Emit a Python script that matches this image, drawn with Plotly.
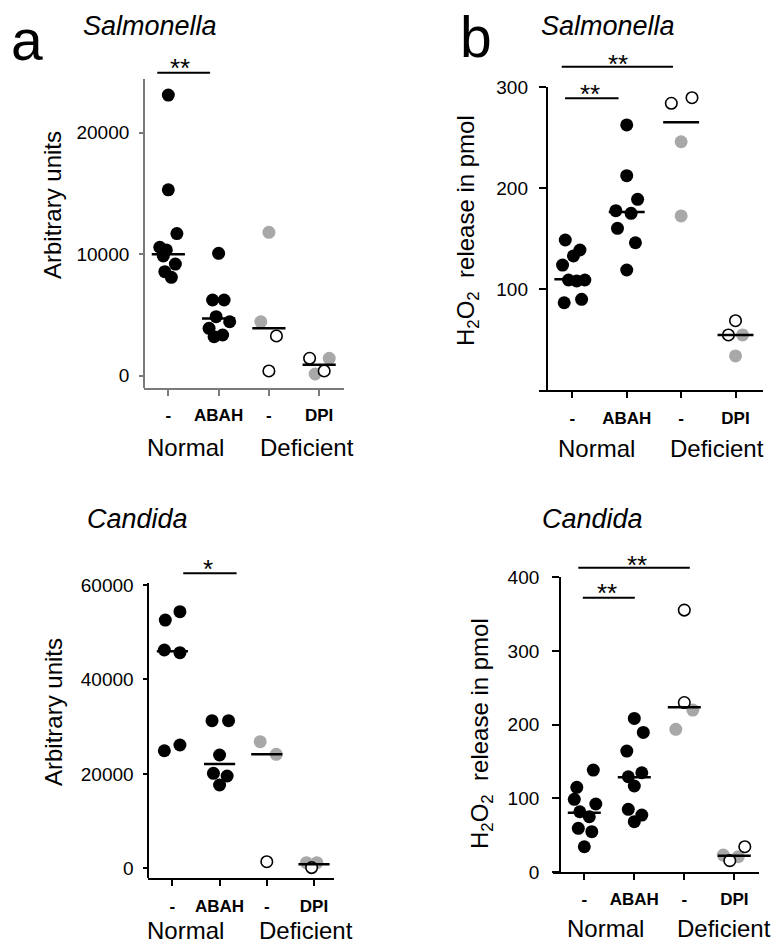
import plotly.graph_objects as go

W, H = 778, 947
FONT = "Liberation Sans, Arial, sans-serif"
BLACK = "#000000"
GRAY = "#a8a8a8"

categories = ["-", "ABAH", "-", "DPI"]
groups = ["Normal", "Deficient"]

# ---------------- data ----------------
# Panel a: Salmonella, arbitrary units
a_norm_vals = [23100, 15300, 11700, 10570, 10350, 9850, 9190, 8560, 8100]
a_norm_dx = [0, 0, 0.17, -0.17, -0.04, -0.1, 0.14, -0.07, 0.06]
a_abah_vals = [10070, 6230, 6230, 4860, 4440, 3900, 3350, 3210]
a_abah_dx = [0, -0.12, 0.11, -0.05, 0.22, -0.19, 0.08, -0.09]
a_def_gray_vals = [11800, 4440]
a_def_gray_dx = [0, -0.16]
a_def_open_vals = [3270, 390]
a_def_open_dx = [0.15, 0]
a_dpi_gray_vals = [1430, 140]
a_dpi_gray_dx = [0.2, -0.08]
a_dpi_open_vals = [1430, 390]
a_dpi_open_dx = [-0.19, 0.1]
a_medians = [10000, 4700, 3900, 900]
a_yticks = [0, 10000, 20000]

# Panel b: Salmonella, H2O2 release in pmol
b_norm_vals = [148.8, 138.9, 133, 124, 109.2, 108.2, 109.2, 86.7, 90.1]
b_norm_dx = [-0.13, 0.14, 0.02, -0.18, -0.07, 0.08, 0.23, -0.15, 0.17]
b_abah_vals = [262.7, 212.5, 189.1, 177.8, 175.2, 160.4, 146.1, 119.1]
b_abah_dx = [0, 0, 0.2, -0.2, 0.08, -0.17, 0.16, 0]
b_def_gray_vals = [246.1, 172.6]
b_def_gray_dx = [0, 0]
b_def_open_vals = [284.2, 289.7]
b_def_open_dx = [-0.18, 0.2]
b_dpi_gray_vals = [54.8, 34]
b_dpi_gray_dx = [0.13, 0]
b_dpi_open_vals = [68.9, 54.8]
b_dpi_open_dx = [0, -0.13]
b_medians = [110, 176.5, 265.3, 54.8]
b_yticks = [100, 200, 300]

# Panel c: Candida, arbitrary units
c_norm_vals = [54340, 52580, 46230, 45660, 26110, 24900]
c_norm_dx = [0.16, -0.15, -0.17, 0.16, 0.16, -0.17]
c_abah_vals = [31270, 31270, 24000, 20120, 19550, 17640]
c_abah_dx = [-0.16, 0.19, 0, -0.13, 0.16, 0]
c_def_gray_vals = [26810, 24140]
c_def_gray_dx = [-0.14, 0.2]
c_def_open_vals = [1400]
c_def_open_dx = [0]
c_dpi_gray_vals = [1190, 1190]
c_dpi_gray_dx = [-0.16, 0.06]
c_dpi_open_vals = [150]
c_dpi_open_dx = [-0.05]
c_medians = [45950, 22100, 24140, 850]
c_yticks = [0, 20000, 40000, 60000]

# Panel d: Candida, H2O2 release in pmol
d_norm_vals = [138.4, 114.9, 98.6, 92.3, 81.8, 75, 59.3, 54.7, 34.3]
d_norm_dx = [0.18, -0.15, -0.2, 0.23, -0.09, 0.1, -0.12, 0.15, 0]
d_abah_vals = [208.5, 189.5, 164.2, 134.7, 129.3, 116.7, 85.1, 77.3, 68.3]
d_abah_dx = [0, 0.18, -0.15, 0.15, -0.12, 0, -0.12, 0.15, 0]
d_def_gray_vals = [219.8, 193.6]
d_def_gray_dx = [0.17, -0.17]
d_def_open_vals = [355.5, 230]
d_def_open_dx = [0, 0]
d_dpi_gray_vals = [23, 20.8]
d_dpi_gray_dx = [-0.22, 0.08]
d_dpi_open_vals = [15.4, 34.3]
d_dpi_open_dx = [-0.09, 0.21]
d_medians = [80.5, 128.5, 223.5, 21.9]
d_yticks = [0, 100, 200, 300, 400]

# significance bars: (x start, x end, y) in data units, stars: (text, x, y)
a_bars = [(0.78, 1.83, 24940)]
a_stars = [("**", 1.23, 25900)]
b_bars = [(0.805, 2.85, 320.4), (0.866, 1.85, 289.1)]
b_stars = [("**", 1.84, 330), ("**", 1.33, 301)]
c_bars = [(1.23, 2.36, 62470)]
c_stars = [("*", 1.76, 64930)]
d_bars = [(0.88, 3.11, 412.9), (0.97, 2.01, 372.2)]
d_stars = [("**", 2.06, 427), ("**", 1.45, 388)]

H2O2_TITLE = "H<sub>2</sub>O<sub>2</sub>&nbsp;&nbsp;release in pmol"

# ---------------- layout geometry (pixels) ----------------
panels = [
    dict(key="", letter="a", title="Salmonella",
         xdom=(144, 344.3), xr=(0.516, 4.5), ydom=(79, 387.7), yr=(-988, 24420),
         ypos=144, yt=a_yticks, ylen=4, axcol="#7a7a7a",
         ytitle="Arbitrary units", ytitle_xy=(53, 205), title_xy=(150, 26),
         grp_y=447, grp_x=(185, 306.7), letter_xy=(27, 40),
         data=(a_norm_vals, a_norm_dx, a_abah_vals, a_abah_dx,
               a_def_gray_vals, a_def_gray_dx, a_def_open_vals, a_def_open_dx,
               a_dpi_gray_vals, a_dpi_gray_dx, a_dpi_open_vals, a_dpi_open_dx),
         med=a_medians, bars=a_bars, stars=a_stars, ystand=6),
    dict(key="2", letter="b", title="Salmonella",
         xdom=(539, 762.7), xr=(0.387, 4.5), ydom=(87.3, 390.3), yr=(0, 300),
         ypos=546.7, yt=b_yticks, ylen=7, axcol=BLACK,
         ytitle=H2O2_TITLE, ytitle_xy=(468, 230),
         title_xy=(608.3, 26), grp_y=448.5, grp_x=(596.3, 716.7), letter_xy=(476, 37),
         data=(b_norm_vals, b_norm_dx, b_abah_vals, b_abah_dx,
               b_def_gray_vals, b_def_gray_dx, b_def_open_vals, b_def_open_dx,
               b_dpi_gray_vals, b_dpi_gray_dx, b_dpi_open_vals, b_dpi_open_dx),
         med=b_medians, bars=b_bars, stars=b_stars, ystand=7),
    dict(key="3", letter=None, title="Candida",
         xdom=(148.3, 334.3), xr=(0.49, 4.43), ydom=(583.3, 878.3), yr=(-2118, 60360),
         ypos=148.3, yt=c_yticks, ylen=4, axcol=BLACK,
         ytitle="Arbitrary units", ytitle_xy=(53, 712), title_xy=(137.8, 519),
         grp_y=930, grp_x=(185.3, 306.2), letter_xy=None,
         data=(c_norm_vals, c_norm_dx, c_abah_vals, c_abah_dx,
               c_def_gray_vals, c_def_gray_dx, c_def_open_vals, c_def_open_dx,
               c_dpi_gray_vals, c_dpi_gray_dx, c_dpi_open_vals, c_dpi_open_dx),
         med=c_medians, bars=c_bars, stars=c_stars, ystand=6),
    dict(key="4", letter=None, title="Candida",
         xdom=(552.7, 759.3), xr=(0.368, 4.5), ydom=(577.3, 872), yr=(0, 400),
         ypos=560, yt=d_yticks, ylen=7, axcol=BLACK,
         ytitle=H2O2_TITLE, ytitle_xy=(481, 733),
         title_xy=(592, 519), grp_y=928, grp_x=(605, 723.7), letter_xy=None,
         data=(d_norm_vals, d_norm_dx, d_abah_vals, d_abah_dx,
               d_def_gray_vals, d_def_gray_dx, d_def_open_vals, d_def_open_dx,
               d_dpi_gray_vals, d_dpi_gray_dx, d_dpi_open_vals, d_dpi_open_dx),
         med=d_medians, bars=d_bars, stars=d_stars, ystand=9),
]

STAR_SIZE = 26


def fx(px):
    return px / W


def fy(py):
    return 1 - py / H


def data_to_px(p, xv, yv):
    x0, x1 = p["xdom"]
    r0, r1 = p["xr"]
    yt, yb = p["ydom"]
    s0, s1 = p["yr"]
    px = x0 + (xv - r0) / (r1 - r0) * (x1 - x0)
    py = yb - (yv - s0) / (s1 - s0) * (yb - yt)
    return px, py


fig = go.Figure()
annotations = []
shapes = []
layout_axes = {}

for p in panels:
    k = p["key"]
    xa, ya = "x" + k, "y" + k
    (nv, nd, av, ad, dgv, dgd, dov, dod, pgv, pgd, pov, pod) = p["data"]

    def add(vals, dx, cat, kind):
        xs = [cat + d for d in dx]
        if kind == "black":
            mk = dict(size=13, color=BLACK, line=dict(width=0))
        elif kind == "gray":
            mk = dict(size=13, color=GRAY, line=dict(width=0))
        else:
            mk = dict(size=11.5, color="white", line=dict(width=1.6, color=BLACK))
        fig.add_trace(go.Scatter(x=xs, y=vals, mode="markers", marker=mk,
                                 xaxis=xa, yaxis=ya, hoverinfo="skip",
                                 cliponaxis=False))

    add(dgv, dgd, 3, "gray")
    add(pgv, pgd, 4, "gray")
    add(dov, dod, 3, "open")
    add(pov, pod, 4, "open")
    add(nv, nd, 1, "black")
    add(av, ad, 2, "black")

    # median lines
    mx, my = [], []
    for i, m in enumerate(p["med"]):
        c = i + 1
        mx += [c - 0.33, c + 0.33, None]
        my += [m, m, None]
    fig.add_trace(go.Scatter(x=mx, y=my, mode="lines",
                             line=dict(color=BLACK, width=2.5),
                             xaxis=xa, yaxis=ya, hoverinfo="skip"))

    xname = "xaxis" + k
    yname = "yaxis" + k
    layout_axes[xname] = dict(
        domain=[fx(p["xdom"][0]), fx(p["xdom"][1])], range=list(p["xr"]),
        anchor=ya, showgrid=False, zeroline=False, showline=True,
        linecolor=p["axcol"], linewidth=1.8, ticks="outside", ticklen=6,
        tickwidth=1.5, tickcolor=p["axcol"], tickvals=[1, 2, 3, 4],
        ticktext=["<b>%s</b>" % c for c in categories],
        tickfont=dict(family=FONT, size=17, color=BLACK),
        ticklabelstandoff=5, automargin=False, fixedrange=True)
    layout_axes[yname] = dict(
        domain=[fy(p["ydom"][1]), fy(p["ydom"][0])], range=list(p["yr"]),
        anchor="free", position=fx(p["ypos"]),
        showgrid=False, zeroline=False, showline=True,
        linecolor=p["axcol"], linewidth=1.8, ticks="outside", ticklen=p["ylen"],
        tickwidth=1.5, tickcolor=p["axcol"], tickvals=p["yt"],
        ticktext=[str(v) for v in p["yt"]],
        tickfont=dict(family=FONT, size=19, color=BLACK),
        ticklabelstandoff=p["ystand"], automargin=False, fixedrange=True)

    # titles
    tx, ty = p["title_xy"]
    annotations.append(dict(text="<i>%s</i>" % p["title"], x=fx(tx), y=fy(ty),
                            xref="paper", yref="paper", showarrow=False,
                            xanchor="center", yanchor="middle",
                            font=dict(family=FONT, size=27, color=BLACK)))
    # y axis title
    ax_, ay_ = p["ytitle_xy"]
    annotations.append(dict(text=p["ytitle"], x=fx(ax_), y=fy(ay_),
                            xref="paper", yref="paper", showarrow=False,
                            textangle=-90, xanchor="center", yanchor="middle",
                            font=dict(family=FONT, size=24, color=BLACK)))
    # group labels
    for g, gx in zip(groups, p["grp_x"]):
        annotations.append(dict(text=g, x=fx(gx), y=fy(p["grp_y"]),
                                xref="paper", yref="paper", showarrow=False,
                                xanchor="center", yanchor="middle",
                                font=dict(family=FONT, size=24, color=BLACK)))
    # panel letter
    if p["letter"]:
        lx, ly = p["letter_xy"]
        annotations.append(dict(text=p["letter"], x=fx(lx), y=fy(ly),
                                xref="paper", yref="paper", showarrow=False,
                                xanchor="center", yanchor="middle",
                                font=dict(family=FONT, size=57, color=BLACK)))
    # significance bars
    for (b0, b1, by) in p["bars"]:
        px0, py0 = data_to_px(p, b0, by)
        px1, _ = data_to_px(p, b1, by)
        shapes.append(dict(type="line", xref="paper", yref="paper",
                           x0=fx(px0), x1=fx(px1), y0=fy(py0), y1=fy(py0),
                           line=dict(color=BLACK, width=2)))
    for (st, sx, sy) in p["stars"]:
        px_, py_ = data_to_px(p, sx, sy)
        annotations.append(dict(text=st, x=fx(px_), y=fy(py_ + 0.28 * STAR_SIZE),
                                xref="paper", yref="paper", showarrow=False,
                                xanchor="center", yanchor="middle",
                                font=dict(family=FONT, size=STAR_SIZE, color=BLACK)))

fig.update_layout(
    width=W, height=H, autosize=False,
    margin=dict(l=0, r=0, t=0, b=0, pad=0),
    paper_bgcolor="white", plot_bgcolor="white", showlegend=False,
    font=dict(family=FONT, color=BLACK),
    annotations=annotations, shapes=shapes, **layout_axes)

fig.write_html("out.html", config={"displayModeBar": False},
               post_script="document.body.style.margin='0';")
